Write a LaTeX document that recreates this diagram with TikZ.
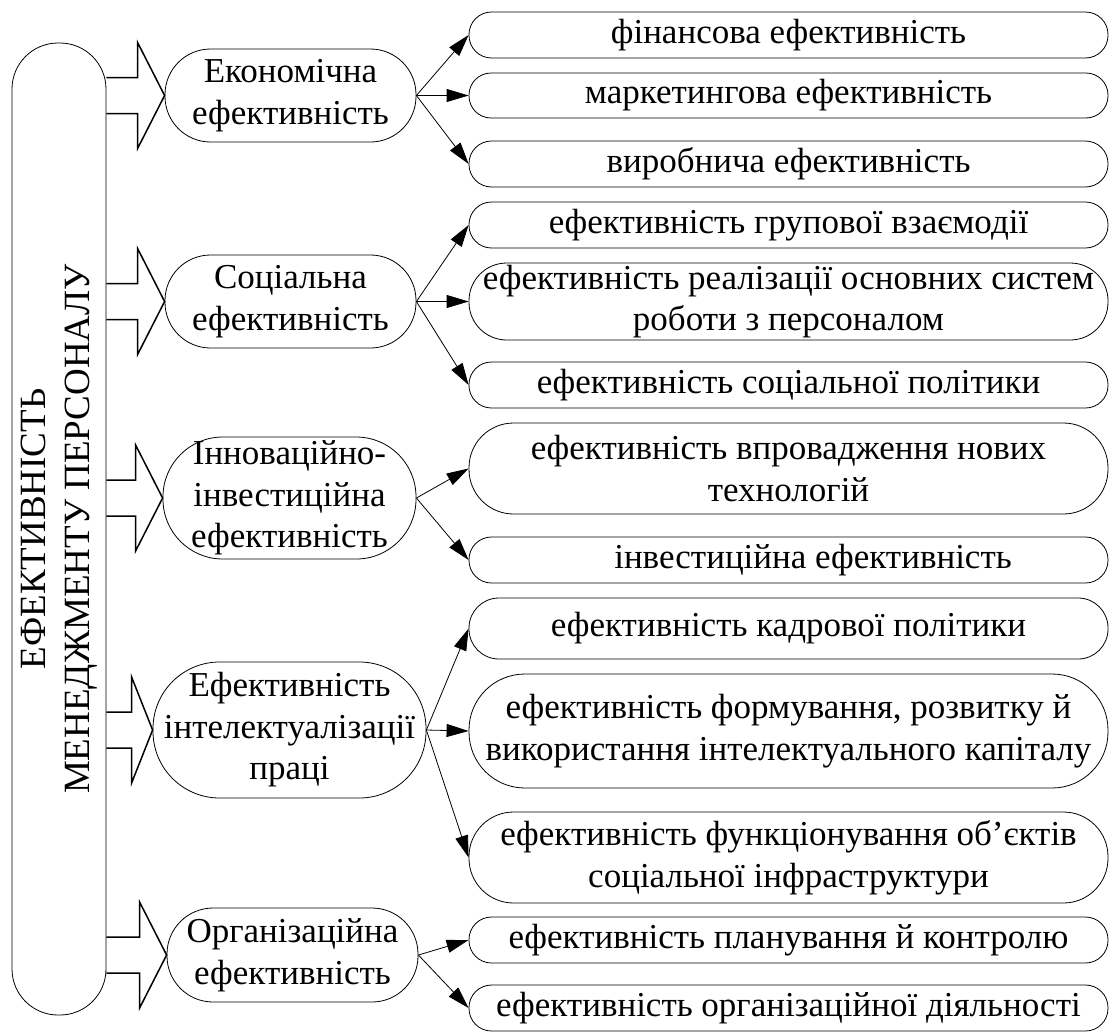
\documentclass[tikz,border=0pt]{standalone}
\usepackage{fontspec}
\setmainfont{Liberation Serif}
\usetikzlibrary{arrows.meta,calc}

\begin{document}
\begin{tikzpicture}[x=1pt,y=-1pt,
  pill/.style={draw,line width=0.8pt,rectangle,rounded corners=0.49*#1,minimum height=#1,
    inner sep=0pt,align=center,font=\fontsize{35}{41.5}\selectfont},
  group/.style={pill=#1,minimum width=251pt},
  leaf/.style={pill=#1,minimum width=639pt},
  leafarr/.style={-{Triangle[length=22pt,width=13pt]},line width=0.8pt},
  blockarr/.style={line width=1.5pt,line join=miter}]
\useasboundingbox (0,0) rectangle (1110,1034);
% main box, text reads bottom to top
\node[pill=94pt,minimum width=972pt,rotate=90,font=\fontsize{37}{44}\selectfont] (main) at (59,529)
  {ЕФЕКТИВНІСТЬ\\МЕНЕДЖМЕНТУ ПЕРСОНАЛУ};
% groups
\node[group=93pt] (econ) at (290.5,95.5) {Економічна\\ефективність};
\node[group=93pt] (soc) at (290.5,301.5) {Соціальна\\ефективність};
\node[group=122pt,minimum width=253pt] (innov) at (289.5,498) {Інноваційно-\\інвестиційна\\ефективність};
\node[group=136pt,minimum width=273pt] (intel) at (289.5,730) {Ефективність\\інтелектуалізації\\праці};
\node[group=94pt] (org) at (292.5,955) {Організаційна\\ефективність};
% leaves
\node[leaf=46pt] (fin) at (788.5,35) {фінансова ефективність};
\node[leaf=45pt] (mark) at (788.5,95.5) {маркетингова ефективність};
\node[leaf=46pt] (virob) at (788.5,164) {виробнича ефективність};
\node[leaf=46pt] (grup) at (788.5,225) {ефективність групової взаємодії};
\node[leaf=77pt] (real) at (788.5,301.5) {ефективність реалізації основних систем\\роботи з персоналом};
\node[leaf=46pt] (socpol) at (788.5,385) {ефективність соціальної політики};
\node[leaf=91pt] (tech) at (788.5,468.5) {ефективність впровадження нових\\технологій};
\node[leaf=46pt] (invest) at (788.5,560) {\hspace*{1.4em}інвестиційна ефективність};
\node[leaf=61pt] (kadr) at (788.5,628.5) {ефективність кадрової політики};
\node[leaf=114pt] (kapit) at (788.5,731) {ефективність формування, розвитку й\\використання інтелектуального капіталу};
\node[leaf=91pt] (infra) at (788.5,857.5) {ефективність функціонування об’єктів\\соціальної інфраструктури};
\node[leaf=46pt] (plan) at (788.5,940) {ефективність планування й контролю};
\node[leaf=46pt] (orgd) at (788.5,1008) {ефективність організаційної діяльності};
% block arrows
\foreach \g/\hl in {econ/27,soc/27,innov/27,intel/21,org/27}
  \draw[blockarr] ($(main.south |- \g.west)+(0,-18)$) -- ($(\g.west)+(-\hl,-18)$)
    -- ($(\g.west)+(-\hl,-53)$) -- (\g.west) -- ($(\g.west)+(-\hl,53)$)
    -- ($(\g.west)+(-\hl,18)$) -- ($(main.south |- \g.west)+(0,18)$);
% thin arrows
\foreach \g/\l in {econ/fin,econ/mark,econ/virob,soc/grup,soc/real,soc/socpol,
  innov/tech,innov/invest,intel/kadr,intel/kapit,intel/infra,org/plan,org/orgd}
  \draw[leafarr] (\g.east) -- (\l.west);
\end{tikzpicture}
\end{document}
